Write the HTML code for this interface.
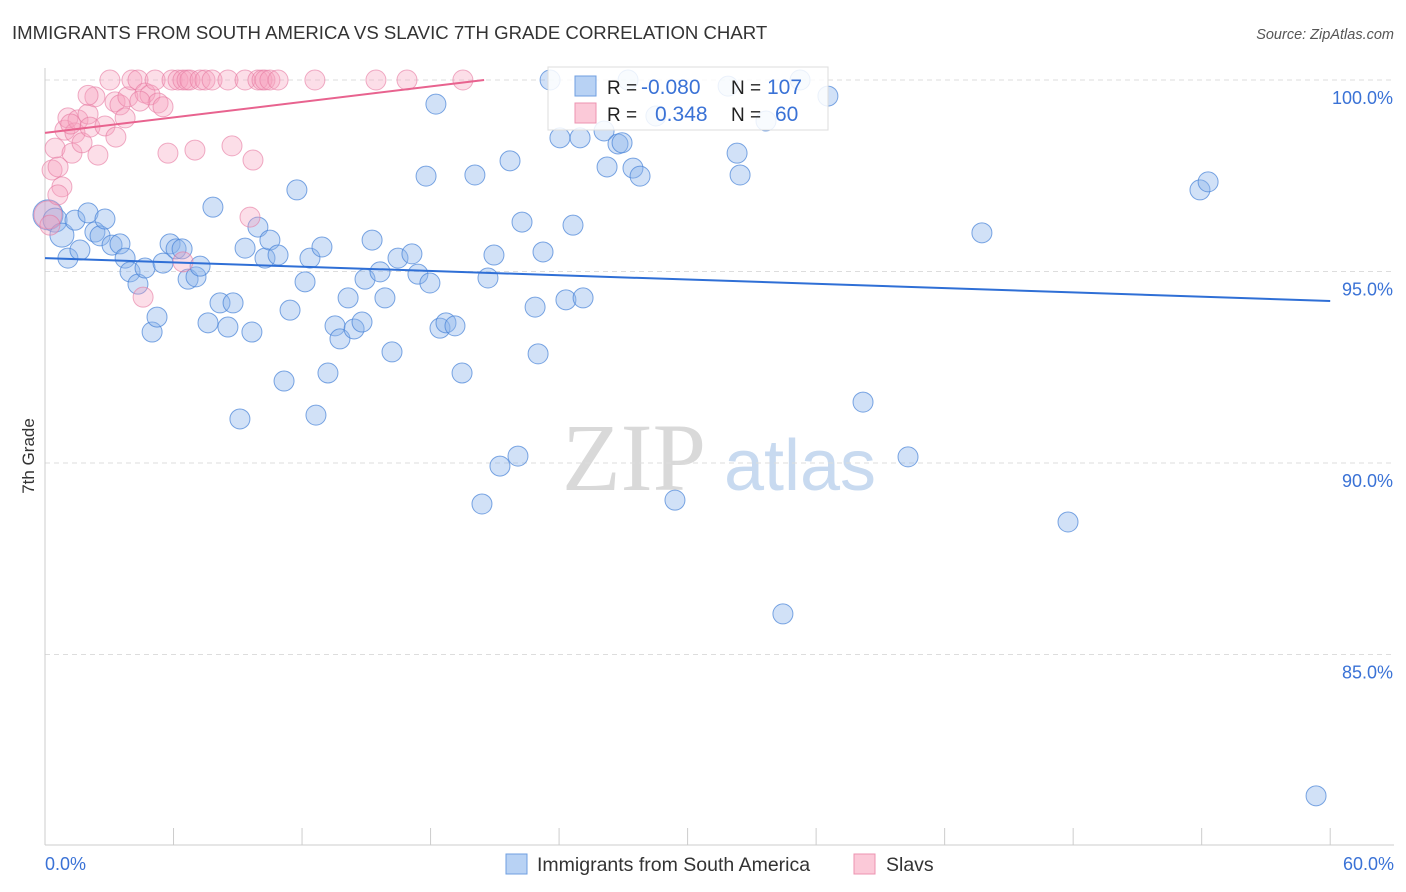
<!DOCTYPE html>
<html><head><meta charset="utf-8"><style>
body{margin:0;background:#fff;font-family:"Liberation Sans",sans-serif}
svg{display:block}
</style></head><body>
<svg id="c" width="1406" height="892">
<text x="12" y="39" font-size="18.6" fill="#333">IMMIGRANTS FROM SOUTH AMERICA VS SLAVIC 7TH GRADE CORRELATION CHART</text>
<text x="1394" y="39" font-size="14.5" fill="#555" font-style="italic" text-anchor="end">Source: ZipAtlas.com</text>
<text x="0" y="0" transform="translate(34,456) rotate(-90)" font-size="17" fill="#333" text-anchor="middle">7th Grade</text>
<g><text x="634" y="490" font-family="Liberation Serif,serif" font-size="96" fill="#d9d9d9" text-anchor="middle">ZIP</text><text x="800" y="490" font-size="72" fill="#c8daf0" text-anchor="middle">atlas</text></g>
<g id="grid"></g><g id="axes"></g><g id="pts"></g><g id="lines"></g>
<g>
<rect x="548" y="67" width="280" height="63" fill="rgba(255,255,255,0.85)" stroke="#ddd"/>
<rect x="575" y="76" width="21" height="20" fill="#b8d2f4" stroke="#6f9fe0"/>
<rect x="575" y="103" width="21" height="20" fill="#fbc9d8" stroke="#ec93b0"/>
<text x="607" y="94" font-size="19" fill="#222">R = </text><text x="641" y="94" font-size="21" fill="#3a72d6">-0.080</text>
<text x="731" y="94" font-size="19" fill="#222">N = </text><text x="767" y="94" font-size="21" fill="#3a72d6">107</text>
<text x="607" y="121" font-size="19" fill="#222">R = </text><text x="655" y="121" font-size="21" fill="#3a72d6">0.348</text>
<text x="731" y="121" font-size="19" fill="#222">N = </text><text x="775" y="121" font-size="21" fill="#3a72d6">60</text>
</g>
<g>
<rect x="506" y="854" width="21" height="20" fill="#b8d2f4" stroke="#6f9fe0"/><text x="537" y="871" font-size="19.5" fill="#333">Immigrants from South America</text>
<rect x="854" y="854" width="21" height="20" fill="#fbc9d8" stroke="#ec93b0"/><text x="886" y="871" font-size="19.5" fill="#333">Slavs</text>
</g>
</svg>
<script>
const blueX=[0.14,0.47,0.79,1.07,1.40,1.63,2.01,2.33,2.57,2.80,3.13,3.50,3.74,3.97,4.34,4.67,5.00,5.23,5.51,5.84,6.12,6.40,6.68,7.05,7.24,7.61,7.84,8.17,8.54,8.78,9.34,9.66,9.10,9.94,10.27,10.50,10.88,11.16,11.44,11.76,12.14,12.37,12.65,12.93,13.21,13.54,13.77,14.15,14.43,14.80,14.94,15.27,15.64,15.87,16.20,16.48,17.13,17.41,17.79,17.97,18.25,18.44,18.72,19.14,19.47,20.07,20.40,20.68,20.96,21.24,21.71,22.08,22.27,22.88,23.02,23.25,23.58,24.04,24.32,24.65,24.98,25.12,26.10,26.24,26.75,26.94,27.22,27.45,27.78,28.52,29.41,31.89,32.31,32.45,33.66,34.45,35.25,36.55,38.19,40.29,43.74,47.76,53.92,54.30,59.34];
const blueY=[96.48,96.34,95.95,95.35,96.34,95.56,96.53,96.03,95.93,96.37,95.69,95.72,95.35,94.99,94.67,95.09,93.42,93.81,95.22,95.72,95.59,95.59,94.80,94.86,95.14,93.66,96.68,94.18,93.55,94.18,95.61,93.42,91.15,96.16,95.35,95.82,95.43,92.14,93.99,97.13,94.73,95.35,91.25,95.64,92.35,93.58,93.24,94.31,93.50,93.68,94.80,95.82,94.99,94.31,92.90,95.35,95.46,94.93,97.49,94.70,99.37,93.52,93.66,93.58,92.35,97.52,88.93,94.83,95.43,89.92,97.89,90.18,96.29,94.07,92.85,95.51,100.0,98.49,94.26,96.21,98.49,94.31,98.67,97.73,98.33,98.36,100.0,97.70,97.49,99.06,89.03,99.84,98.09,97.52,98.93,86.06,100.0,99.58,91.59,90.16,96.01,88.46,97.13,97.34,81.31];
const pinkX=[0.14,0.23,0.33,0.47,0.61,0.79,0.93,1.07,1.26,1.40,1.54,1.73,2.01,2.10,2.33,2.47,2.80,3.03,3.27,3.31,3.50,3.74,3.87,4.06,4.34,4.67,4.90,5.14,5.28,5.51,5.74,5.93,6.21,6.44,6.63,6.77,7.00,7.24,7.47,7.80,8.54,8.73,9.34,9.57,9.71,9.94,10.13,10.27,10.50,10.88,12.60,15.45,16.90,19.51,6.44,4.58,4.43,2.01,1.20,0.60];
const pinkY=[96.48,96.21,97.65,98.22,97.73,97.21,98.69,99.01,98.09,98.62,98.96,98.36,99.11,98.77,99.56,98.04,98.80,100,99.43,98.51,99.35,99.01,99.56,100,100,99.66,99.61,100,99.40,99.30,98.09,100,100,100,100,100,98.17,100,100,100,100,98.28,100,96.42,97.91,100,100,100,100,100,100,100,100,100,95.25,94.33,99.45,99.60,98.85,97.00];
const trendBlue=[95.35,94.23];
const trendPink=[98.62,100.0];
const pinkEnd=20.5;
const yTicks=[100,95,90,85];
const xTickVals=[0,6,12,18,24,30,36,42,48,54,60];
const sx=v=>45+v*21.42, sy=v=>80+(100-v)*38.3;
const NS='http://www.w3.org/2000/svg';
function mk(p,t,a){const e=document.createElementNS(NS,t);for(const k in a)e.setAttribute(k,a[k]);p.appendChild(e);return e;}
const grid=document.getElementById('grid'),axes=document.getElementById('axes'),pts=document.getElementById('pts'),lines=document.getElementById('lines');
yTicks.forEach(v=>{
 const l=mk(grid,'line',{x1:45,x2:1394,y1:sy(v),y2:sy(v),stroke:'#ddd','stroke-dasharray':'5,4'});
 
 
 const t=mk(axes,'text',{x:1393,y:sy(v)+24,'font-size':18,fill:'#3a72d6','text-anchor':'end'});t.textContent=v.toFixed(1)+'%';
 
 
});
const ya=mk(axes,'line',{x1:45,x2:45,y1:68,y2:845,stroke:'#ccc'});


const xa=mk(axes,'line',{x1:45,x2:1394,y1:845,y2:845,stroke:'#ccc'});


xTickVals.forEach(v=>{const t=mk(axes,'line',{x1:sx(v),x2:sx(v),y1:828,y2:845,stroke:'#ccc'});
 
 });
[[0,'0.0%','start',45],[60,'60.0%','end',1394]].forEach(a=>{const t=mk(axes,'text',{x:a[3],y:870,'font-size':18,fill:'#3a72d6','text-anchor':a[2]});t.textContent=a[1];
 
 });
blueX.forEach((x,i)=>{const r=i===0?15:(i<3?12:10);
 const c=mk(pts,'circle',{cx:sx(x),cy:sy(blueY[i]),r:r,fill:'rgba(140,180,235,0.4)',stroke:'rgba(70,130,215,0.7)','stroke-width':1});
 
 });
pinkX.forEach((x,i)=>{const r=i===0?14:10;
 const c=mk(pts,'circle',{cx:sx(x),cy:sy(pinkY[i]),r:r,fill:'rgba(245,160,190,0.35)',stroke:'rgba(230,120,160,0.6)','stroke-width':1});
 
 });
const lb=mk(lines,'line',{x1:sx(0),y1:sy(trendBlue[0]),x2:sx(60),y2:sy(trendBlue[1]),stroke:'#2f6fd6','stroke-width':2});


const lp=mk(lines,'line',{x1:sx(0),y1:sy(trendPink[0]),x2:sx(pinkEnd),y2:sy(trendPink[1]),stroke:'#e8638f','stroke-width':2});


</script>
</body></html>
